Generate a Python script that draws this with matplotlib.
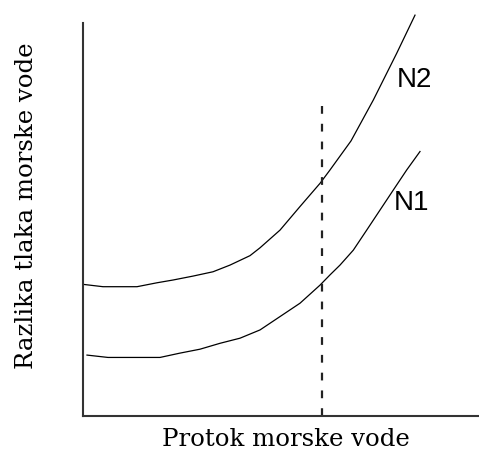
import matplotlib
matplotlib.use("Agg")
import matplotlib.pyplot as plt

# Data (arbitrary units)
n2_x = [0.0, 0.505, 1.364, 1.869, 2.273, 2.778, 3.283, 3.712, 4.217, 4.470,
        4.975, 5.480, 5.985, 6.237, 6.768, 7.331, 7.922, 8.384]
n2_y = [3.35, 3.29, 3.29, 3.39, 3.46, 3.56, 3.67, 3.84, 4.08, 4.28,
        4.73, 5.33, 5.92, 6.26, 7.00, 8.04, 9.23, 10.20]
n1_x = [0.101, 0.631, 1.944, 2.449, 2.955, 3.460, 3.965, 4.470, 4.975, 5.480,
        5.985, 6.237, 6.490, 6.826, 7.164, 7.500, 7.836, 8.174, 8.510]
n1_y = [1.55, 1.49, 1.49, 1.60, 1.70, 1.85, 1.98, 2.19, 2.53, 2.87,
        3.33, 3.59, 3.84, 4.22, 4.73, 5.24, 5.75, 6.26, 6.73]
vline_x = 6.04
vline_top = 8.07
labels = ["N2", "N1"]
label_pos = [(8.38, 8.55), (8.30, 5.42)]
xlabel = "Protok morske vode"
ylabel = "Razlika tlaka morske vode"

W, H = 479, 453
fig = plt.figure(figsize=(W / 100, H / 100), dpi=100)
ax = fig.add_axes([83 / W, (H - 416) / H, (W - 83) / W, (416 - 23) / H])
ax.set_xlim(0, 10)
ax.set_ylim(0, 10)
for s in ["top", "right"]:
    ax.spines[s].set_visible(False)
for s in ["left", "bottom"]:
    ax.spines[s].set_linewidth(1.5)
    ax.spines[s].set_color("#333333")
ax.set_xticks([])
ax.set_yticks([])

ax.plot(n2_x, n2_y, color="black", lw=0.9, clip_on=False)
ax.plot(n1_x, n1_y, color="black", lw=0.9, clip_on=False)
ax.plot([vline_x, vline_x], [0, vline_top], color="#222222", lw=1.6,
        dashes=(3.5, 4.5), clip_on=False)

for lab, (x, y) in zip(labels, label_pos):
    ax.text(x, y, lab, ha="center", va="center", fontsize=20,
            family="Liberation Sans", color="black")

tx = fig.text(286 / W, 1 - 439 / H, xlabel, ha="center", va="center",
              family="DejaVu Serif", fontsize=15, color="black")
ty = fig.text(27 / W, 1 - 206 / H, ylabel, ha="center", va="center",
              rotation=90, family="DejaVu Serif", fontsize=15, color="black")

# fit text widths to the reference
fig.canvas.draw()
r = fig.canvas.get_renderer()
w = tx.get_window_extent(r).width
tx.set_fontsize(15 * 248 / w)
h = ty.get_window_extent(r).height
ty.set_fontsize(15 * 327 / h)

fig.savefig("out.png", dpi=100)
